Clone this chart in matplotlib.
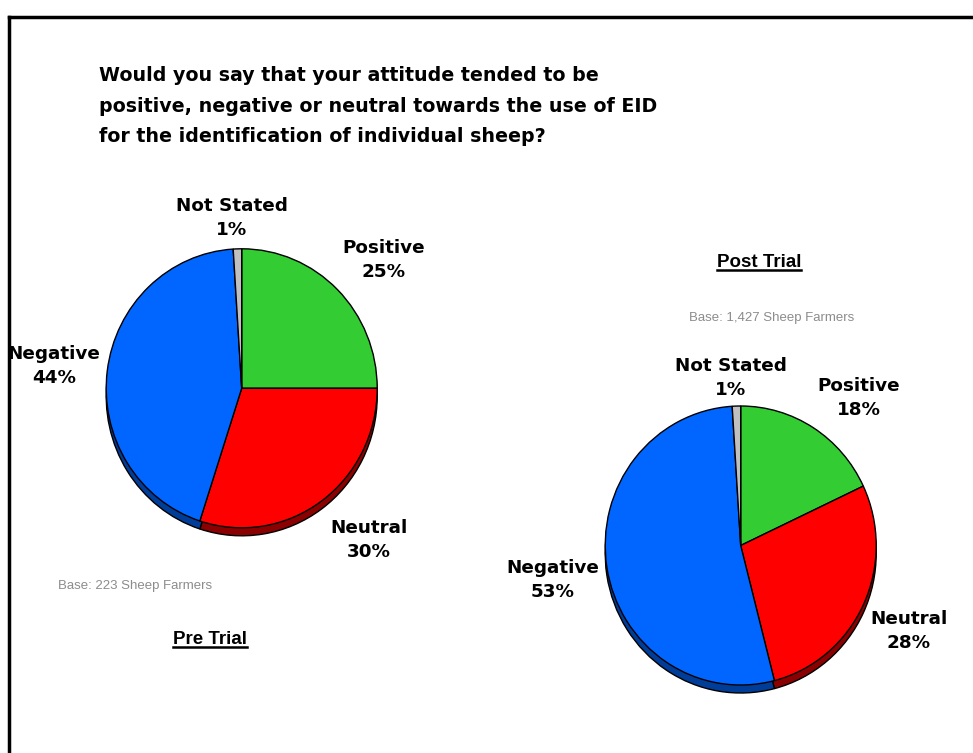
import matplotlib
matplotlib.use('Agg')
import matplotlib.pyplot as plt

W, H = 973, 753

title = ("Would you say that your attitude tended to be\n"
         "positive, negative or neutral towards the use of EID\n"
         "for the identification of individual sheep?")

categories = ['Positive', 'Neutral', 'Negative', 'Not Stated']
pre_values = [25, 30, 44, 1]
post_values = [18, 28, 53, 1]

colors = ['#33CC33', '#FF0000', '#0066FF', '#C0C0C0']
shadow_colors = ['#1E7A1E', '#8B0000', '#003D99', '#707070']

pre_base = "Base: 223 Sheep Farmers"
post_base = "Base: 1,427 Sheep Farmers"

fig = plt.figure(figsize=(W / 100, H / 100), dpi=100)
ax = fig.add_axes([0, 0, 1, 1])
ax.set_xlim(0, W)
ax.set_ylim(H, 0)
ax.axis('off')

# slide border (left and top only)
ax.plot([9, 9], [17, H], color='black', lw=2.5, solid_capstyle='projecting')
ax.plot([9, W], [17, 17], color='black', lw=2.5, solid_capstyle='projecting')

ax.text(99, 106, title, fontsize=13.7, fontweight='bold', family='DejaVu Sans',
        va='center', ha='left', linespacing=1.78)


def draw_pie(cx, cy, rx, ry, values, label_pos):
    pax = fig.add_axes([(cx - 1.1 * rx) / W, 1 - (cy + 1.2 * ry) / H,
                        2.2 * rx / W, 2.4 * ry / H])
    dy = -8 / ry
    wp = dict(edgecolor='black', linewidth=1.0)
    pax.pie(values, colors=shadow_colors, startangle=90, counterclock=False,
            center=(0, dy), wedgeprops=wp)
    pax.pie(values, colors=colors, startangle=90, counterclock=False,
            wedgeprops=wp)
    pax.set_aspect('auto')
    pax.set_xlim(-1.1, 1.1)
    pax.set_ylim(-1.2, 1.2)
    pax.axis('off')
    for cat, v, (lx, ly) in zip(categories, values, label_pos):
        ax.text(lx, ly, f"{cat}\n{v}%", ha='center', va='center', fontsize=13.2,
                fontweight='bold', family='DejaVu Sans', linespacing=1.38)


draw_pie(241.7, 388.3, 135.5, 139.5, pre_values,
         [(384, 260), (369, 540), (54, 366), (232, 218)])
draw_pie(740.7, 545.5, 135.5, 139.5, post_values,
         [(859, 398), (909, 631), (553, 580), (731, 378)])

ax.text(135, 586, pre_base, ha='center', va='center', fontsize=9.5,
        color='#8C8C8C', family='Liberation Sans')
ax.text(772, 318, post_base, ha='center', va='center', fontsize=9.5,
        color='#8C8C8C', family='Liberation Sans')

trial_labels = [ax.text(210, 640, "Pre Trial", ha='center', va='center', fontsize=13.5,
                        fontweight='bold', family='Liberation Sans'),
                ax.text(759, 262, "Post Trial", ha='center', va='center', fontsize=13.5,
                        fontweight='bold', family='Liberation Sans')]

fig.canvas.draw()
inv = ax.transData.inverted()
for t in trial_labels:
    bb = t.get_window_extent()
    (x0, y0), (x1, y1) = inv.transform([(bb.x0, bb.y0), (bb.x1, bb.y1)])
    ax.plot([x0, x1], [y0 - 1, y0 - 1], color='black', lw=1.8)

fig.savefig('out.png', dpi=100)
